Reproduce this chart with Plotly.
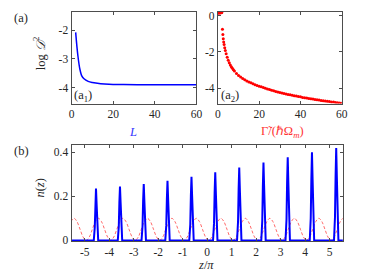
import plotly.graph_objects as go

# ---------------- data ----------------
# panel (a1): log D^2 versus L
L_vals = [2, 3, 4, 5, 6, 8, 10, 14, 18, 25, 35, 45, 60]
logD2_L = [-2.08, -2.85, -3.35, -3.6, -3.69, -3.78, -3.82, -3.86, -3.88, -3.89, -3.9, -3.9, -3.9]

# panel (a2): log D^2 versus Gamma/(hbar Omega_m)
gamma_vals = [0.1, 0.3, 0.5, 0.7, 0.9, 1.1, 1.3, 1.5, 1.7, 1.9,
              2.2, 2.4, 2.6, 2.8, 3.0, 3.3, 3.6, 4.0, 4.5, 5.0, 5.5, 6.0, 6.5, 7.0, 7.5, 8.0,
              9, 10, 11, 12, 13, 14, 15, 16, 17, 18, 19, 20, 21, 22, 23, 24, 25, 26, 27, 28, 29,
              30, 31, 32, 33, 34, 35, 36, 37, 38, 39, 40, 41, 42, 43, 44, 45, 46, 47, 48, 49,
              50, 51, 52, 53, 54, 55, 56, 57, 58, 59, 60]
logD2_gamma = [0.14, 0.14, 0.15, 0.15, 0.15, 0.16, 0.16, 0.16, 0.17, 0.17,
               -0.76, -1.05, -1.28, -1.46, -1.6, -1.78, -1.93, -2.1, -2.3, -2.46, -2.6, -2.72, -2.82, -2.91, -2.99, -3.06,
               -3.19, -3.3, -3.39, -3.47, -3.54, -3.6, -3.66, -3.71, -3.76, -3.81, -3.85, -3.89, -3.93, -3.97, -4.01, -4.05, -4.08, -4.12, -4.15, -4.18, -4.21,
               -4.24, -4.27, -4.29, -4.32, -4.35, -4.37, -4.39, -4.42, -4.44, -4.46, -4.48, -4.51, -4.53, -4.55, -4.57, -4.59, -4.60, -4.62, -4.64, -4.66,
               -4.68, -4.69, -4.71, -4.73, -4.74, -4.76, -4.77, -4.79, -4.80, -4.82, -4.83]

# panel (b): n(z) (blue) and lattice potential (red dashed), z in units of pi
blue_peaks_z = [
    [-4.63, -4.59, -4.565, -4.54, -4.515, -4.49, -4.45],
    [-3.65, -3.61, -3.585, -3.56, -3.535, -3.51, -3.47],
    [-2.68, -2.64, -2.615, -2.59, -2.565, -2.54, -2.50],
    [-1.71, -1.67, -1.645, -1.62, -1.595, -1.57, -1.53],
    [-0.73, -0.69, -0.665, -0.64, -0.615, -0.59, -0.55],
    [0.24, 0.28, 0.305, 0.33, 0.355, 0.38, 0.42],
    [1.22, 1.26, 1.285, 1.31, 1.335, 1.36, 1.40],
    [2.21, 2.25, 2.275, 2.30, 2.325, 2.35, 2.39],
    [3.20, 3.24, 3.265, 3.29, 3.315, 3.34, 3.38],
    [4.19, 4.23, 4.255, 4.28, 4.305, 4.33, 4.37],
    [5.18, 5.22, 5.245, 5.27, 5.295, 5.32, 5.36],
]
blue_peaks_n = [
    [0, 0.059, 0.165, 0.235, 0.165, 0.059, 0],
    [0, 0.061, 0.171, 0.244, 0.171, 0.061, 0],
    [0, 0.064, 0.179, 0.255, 0.179, 0.064, 0],
    [0, 0.068, 0.189, 0.270, 0.189, 0.068, 0],
    [0, 0.072, 0.202, 0.288, 0.202, 0.072, 0],
    [0, 0.077, 0.216, 0.308, 0.216, 0.077, 0],
    [0, 0.083, 0.231, 0.330, 0.231, 0.083, 0],
    [0, 0.088, 0.247, 0.353, 0.247, 0.088, 0],
    [0, 0.094, 0.263, 0.376, 0.263, 0.094, 0],
    [0, 0.100, 0.279, 0.399, 0.279, 0.100, 0],
    [0, 0.105, 0.293, 0.418, 0.293, 0.105, 0],
]
blue_z = [-5.6] + [v for p in blue_peaks_z for v in p] + [5.6]
blue_n = [0] + [v for p in blue_peaks_n for v in p] + [0]

# red dashed curve read at eighth-period steps (maxima near z/pi = k + 0.56)
red_z = [-5.565, -5.44, -5.315, -5.19, -5.065, -4.94, -4.815, -4.69,
         -4.565, -4.44, -4.315, -4.19, -4.065, -3.94, -3.815, -3.69,
         -3.565, -3.44, -3.315, -3.19, -3.065, -2.94, -2.815, -2.69,
         -2.565, -2.44, -2.315, -2.19, -2.065, -1.94, -1.815, -1.69,
         -1.565, -1.44, -1.315, -1.19, -1.065, -0.94, -0.815, -0.69,
         -0.565, -0.44, -0.315, -0.19, -0.065, 0.06, 0.185, 0.31,
         0.435, 0.56, 0.685, 0.81, 0.935, 1.06, 1.185, 1.31,
         1.435, 1.56, 1.685, 1.81, 1.935, 2.06, 2.185, 2.31,
         2.435, 2.56, 2.685, 2.81, 2.935, 3.06, 3.185, 3.31,
         3.435, 3.56, 3.685, 3.81, 3.935, 4.06, 4.185, 4.31,
         4.435, 4.56, 4.685, 4.81, 4.935, 5.06, 5.185, 5.31,
         5.435, 5.56, 5.685]
red_n = [0.085, 0.1, 0.085, 0.05, 0.015, 0, 0.015, 0.05,
         0.085, 0.1, 0.085, 0.05, 0.015, 0, 0.015, 0.05,
         0.085, 0.1, 0.085, 0.05, 0.015, 0, 0.015, 0.05,
         0.085, 0.1, 0.085, 0.05, 0.015, 0, 0.015, 0.05,
         0.085, 0.1, 0.085, 0.05, 0.015, 0, 0.015, 0.05,
         0.085, 0.1, 0.085, 0.05, 0.015, 0, 0.015, 0.05,
         0.085, 0.1, 0.085, 0.05, 0.015, 0, 0.015, 0.05,
         0.085, 0.1, 0.085, 0.05, 0.015, 0, 0.015, 0.05,
         0.085, 0.1, 0.085, 0.05, 0.015, 0, 0.015, 0.05,
         0.085, 0.1, 0.085, 0.05, 0.015, 0, 0.015, 0.05,
         0.085, 0.1, 0.085, 0.05, 0.015, 0, 0.015, 0.05,
         0.085, 0.1, 0.085]

a1_xticks = [0, 20, 40, 60]
a1_yticks = [-2, -3, -4]
a2_xticks = [0, 20, 40, 60]
a2_yticks = [0, -2, -4]
b_xticks = [-5, -4, -3, -2, -1, 0, 1, 2, 3, 4, 5]
b_yticks = [0, 0.2, 0.4]
b_yticklabels = ["0", "0.2", "0.4"]

# ---------------- figure ----------------
W, H = 374, 274
def fx(px):
    return px / W
def fy(py):
    return 1 - py / H

FONT = "Liberation Serif"
INK = "#262626"
FRAME = "#4d4d4d"

def axis_style(**kw):
    d = dict(showline=True, mirror="ticks", linecolor=FRAME, linewidth=1,
             ticks="inside", ticklen=3, tickcolor=FRAME, tickwidth=1,
             showgrid=False, zeroline=False, ticklabeloverflow="allow",
             tickfont=dict(family=FONT, size=11.5, color=INK))
    d.update(kw)
    return d

fig = go.Figure()
fig.add_trace(go.Scatter(x=L_vals, y=logD2_L, mode="lines",
                         line=dict(color="#0000ff", width=1.5, shape="spline"),
                         xaxis="x", yaxis="y", showlegend=False))
fig.add_trace(go.Scatter(x=gamma_vals, y=logD2_gamma, mode="markers",
                         marker=dict(color="#ff0000", size=3, line=dict(width=0)),
                         xaxis="x2", yaxis="y2", showlegend=False))
fig.add_trace(go.Scatter(x=red_z, y=red_n, mode="lines",
                         line=dict(color="rgba(255,80,80,0.85)", width=1, dash="3px,2px", shape="spline"),
                         xaxis="x3", yaxis="y3", showlegend=False))
fig.add_trace(go.Scatter(x=blue_z, y=blue_n, mode="lines",
                         line=dict(color="#0000ff", width=2),
                         xaxis="x3", yaxis="y3", showlegend=False))

fig.update_layout(
    width=W, height=H, margin=dict(l=0, r=0, t=0, b=0),
    paper_bgcolor="white", plot_bgcolor="white",
    font=dict(family=FONT, color=INK),
    xaxis=axis_style(domain=[fx(62), fx(190)], range=[0, 60], tickvals=a1_xticks, anchor="y"),
    yaxis=axis_style(domain=[fy(96), fy(2)], range=[-4.55, -1.37], tickvals=a1_yticks,
                     ticktext=[str(v) for v in a1_yticks], anchor="x"),
    xaxis2=axis_style(domain=[fx(212), fx(339)], range=[0, 60], tickvals=a2_xticks, anchor="y2"),
    yaxis2=axis_style(domain=[fy(96), fy(2)], range=[-4.85, 0.2], tickvals=a2_yticks,
                      ticktext=[str(v) for v in a2_yticks], anchor="x2"),
    xaxis3=axis_style(domain=[fx(62), fx(340)], range=[-5.54, 5.54], tickvals=b_xticks,
                      ticktext=[str(v) for v in b_xticks], anchor="y3"),
    yaxis3=axis_style(domain=[fy(237), fy(139)], range=[-0.0025, 0.43], tickvals=b_yticks,
                      ticktext=b_yticklabels, anchor="x3"),
)

def ann(text, px, py, size=12.5, color=INK, angle=0, xanchor="center", yanchor="middle"):
    fig.add_annotation(text=text, x=fx(px), y=fy(py), xref="paper", yref="paper",
                       showarrow=False, textangle=angle, xanchor=xanchor, yanchor=yanchor,
                       font=dict(family=FONT, size=size, color=color))

ann("(a)", 1, 8, xanchor="left")
ann("(b)", 1, 145, xanchor="left")
ann("log <i>𝒟</i><sup>2</sup>", 29, 45, angle=-90)
ann("<i>n</i>(<i>z</i>)", 30, 183, angle=-90)
ann("<i>L</i>", 125, 125, color="#3333ff")
ann("Γ̃/(ℏΩ<sub><i>m</i></sub>)", 278, 125, color="#ff3333")
ann("<i>z</i>/<i>π</i>", 200, 262)
ann("(a<sub>1</sub>)", 63, 88, xanchor="left")
ann("(a<sub>2</sub>)", 213, 88, xanchor="left")

fig.write_html("out.html")
